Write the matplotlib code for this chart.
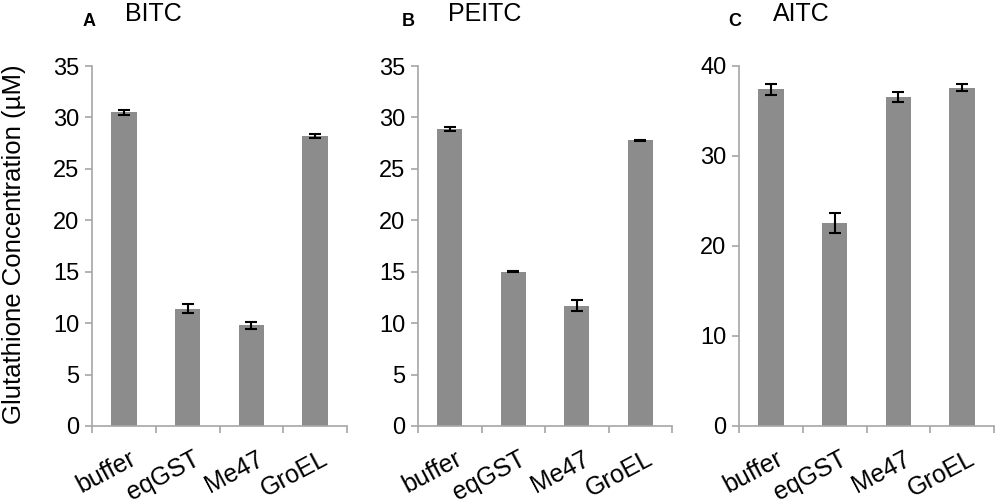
import matplotlib
matplotlib.use("Agg")
import matplotlib.pyplot as plt
import numpy as np

plt.rcParams['font.family'] = ['Liberation Sans', 'DejaVu Sans']

categories = ["buffer", "eqGST", "Me47", "GroEL"]

bitc_values = [30.5, 11.4, 9.8, 28.2]
bitc_errors = [0.25, 0.45, 0.35, 0.2]

peitc_values = [28.9, 15.0, 11.7, 27.8]
peitc_errors = [0.2, 0.05, 0.55, 0.05]

aitc_values = [37.4, 22.6, 36.6, 37.6]
aitc_errors = [0.6, 1.1, 0.55, 0.35]

panel_letters = ["A", "B", "C"]
panel_titles = ["BITC", "PEITC", "AITC"]
y_ticks_list = [np.arange(0, 36, 5), np.arange(0, 36, 5), np.arange(0, 41, 10)]
y_lims = [35, 35, 40]
y_label = "Glutathione Concentration (µM)"

W, H = 1000, 504
fig = plt.figure(figsize=(W / 100, H / 100), dpi=100)

axes_px = [(92, 347), (418, 672), (739, 994)]
letter_x = [83, 402, 728]
title_x = [125, 448, 773]
bottom_px, top_px = 426, 66

bar_color = "#8c8c8c"
axis_color = "#a6a6a6"
ytick_fs = 17
xtick_fs = 18

data = [(bitc_values, bitc_errors), (peitc_values, peitc_errors), (aitc_values, aitc_errors)]

for i, ((l, r), (vals, errs)) in enumerate(zip(axes_px, data)):
    ax = fig.add_axes([l / W, 1 - bottom_px / H, (r - l) / W, (bottom_px - top_px) / H])
    x = np.arange(len(categories))
    ax.bar(x, vals, width=0.4, color=bar_color, zorder=2)
    ax.errorbar(x, vals, yerr=errs, fmt='none', ecolor='black', elinewidth=1.5,
                capsize=4, capthick=1.5, zorder=3)
    ax.set_xlim(-0.5, len(categories) - 0.5)
    ax.set_ylim(0, y_lims[i])
    ax.set_yticks(y_ticks_list[i])
    ax.set_yticklabels([str(int(t)) for t in y_ticks_list[i]], fontsize=ytick_fs)
    ax.set_xticks(np.arange(-0.5, len(categories), 1.0))
    ax.set_xticklabels([])
    ax.set_xticks(x + 0.08, minor=True)
    ax.set_xticklabels(categories, minor=True, rotation=28, ha='right',
                       rotation_mode='anchor', fontsize=xtick_fs)
    ax.tick_params(axis='x', which='minor', length=0, pad=15)
    ax.tick_params(axis='x', which='major', length=5, color=axis_color, width=1.2)
    ax.tick_params(axis='y', length=5, color=axis_color, width=1.2, pad=4)
    for s in ['top', 'right']:
        ax.spines[s].set_visible(False)
    for s in ['left', 'bottom']:
        ax.spines[s].set_color(axis_color)
        ax.spines[s].set_linewidth(1.2)
    fig.text(letter_x[i] / W, 1 - 21 / H, panel_letters[i], fontsize=13, fontweight='bold',
             ha='left', va='center')
    fig.text(title_x[i] / W, 1 - 14 / H, panel_titles[i], fontsize=18, ha='left', va='center')

fig.text(14 / W, 1 - 244 / H, y_label, fontsize=18.5, rotation=90, ha='center', va='center')

fig.savefig("out.png", dpi=100)
